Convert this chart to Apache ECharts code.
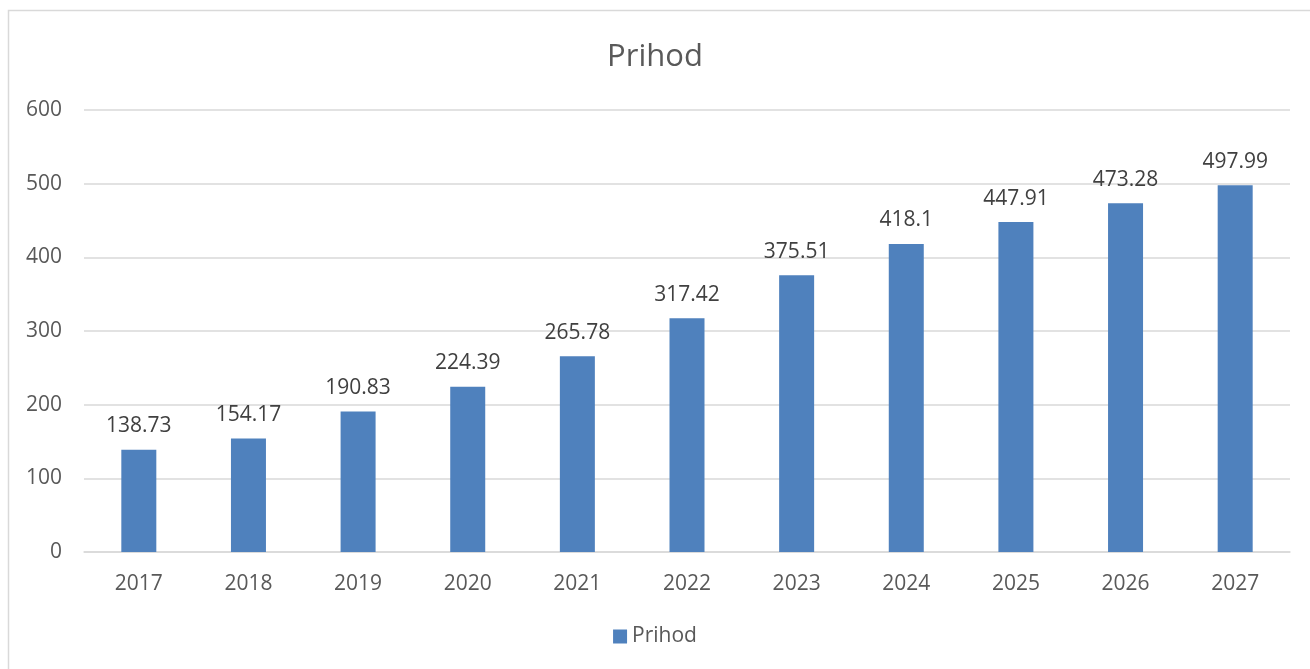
<!DOCTYPE html>
<html>
<head>
<meta charset="utf-8">
<style>
  html, body { margin: 0; padding: 0; background: #fff; }
  #chart { width: 1310px; height: 669px; }
</style>
<script src="https://cdn.jsdelivr.net/npm/echarts@6/dist/echarts.min.js"></script>
</head>
<body>
<div id="chart"></div>
<script>
// data
var years = ["2017", "2018", "2019", "2020", "2021", "2022", "2023", "2024", "2025", "2026", "2027"];
var prihod = [138.73, 154.17, 190.83, 224.39, 265.78, 317.42, 375.51, 418.1, 447.91, 473.28, 497.99];

var myChart = echarts.init(document.getElementById("chart"));
var font = "'Open Sans', 'Noto Sans', sans-serif";

var option = {
  animation: false,
  textStyle: { fontFamily: font },
  // thin frame like the Excel chart area
  graphic: [
    {
      type: "rect",
      shape: { x: 8.5, y: 10.5, width: 1400, height: 700 },
      style: { fill: "none", stroke: "#d9d9d9", lineWidth: 1.5 },
      silent: true
    }
  ],
  title: {
    text: "Prihod",
    left: "center",
    top: 37,
    textStyle: { color: "#595959", fontSize: 31, fontWeight: "normal", fontFamily: font }
  },
  legend: {
    bottom: 17,
    left: "center",
    itemWidth: 14,
    itemHeight: 14,
    itemGap: 6,
    icon: "rect",
    textStyle: { color: "#595959", fontSize: 21, fontFamily: font },
    data: ["Prihod"]
  },
  grid: { left: 84, right: 20, top: 110, bottom: 117 },
  xAxis: {
    type: "category",
    data: years,
    axisLine: { lineStyle: { color: "#d9d9d9", width: 1.5 } },
    axisTick: { show: false },
    axisLabel: { color: "#595959", fontSize: 21, margin: 22, fontFamily: font }
  },
  yAxis: {
    type: "value",
    min: 0,
    max: 600,
    interval: 100,
    splitLine: { lineStyle: { color: "#d9d9d9", width: 1.5 } },
    axisLabel: { color: "#595959", fontSize: 21, margin: 22, fontFamily: font }
  },
  series: [
    {
      name: "Prihod",
      type: "bar",
      data: prihod,
      barWidth: 35,
      itemStyle: { color: "#4f81bd" },
      label: {
        show: true,
        position: "top",
        distance: 13,
        color: "#404040",
        fontSize: 21,
        fontFamily: font
      }
    }
  ]
};

myChart.setOption(option);
</script>
</body>
</html>
